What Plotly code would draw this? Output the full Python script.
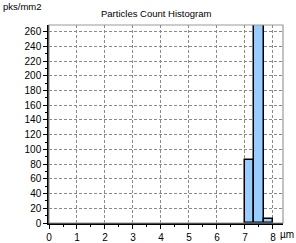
import plotly.graph_objects as go

bin_left = [7.0, 7.3333, 7.6667]
bin_width = 0.3333
counts = [85, 300, 6]
x_ticks = [0, 1, 2, 3, 4, 5, 6, 7, 8]
y_ticks = list(range(0, 261, 20))

centers = [b + bin_width / 2 for b in bin_left]

fig = go.Figure()
fig.add_trace(go.Bar(
    x=centers, y=counts, width=[bin_width] * len(counts),
    marker=dict(color="#99CCFF", line=dict(color="#000000", width=1.5)),
))

font = dict(family="Liberation Sans, Arial, sans-serif", size=10, color="#000000")

fig.update_layout(
    width=296, height=243,
    margin=dict(l=49, r=13, t=25, b=20, autoexpand=False),
    paper_bgcolor="white", plot_bgcolor="white",
    showlegend=False,
    font=font,
    bargap=0,
    xaxis=dict(
        range=[0, 8.36], tickvals=x_ticks, ticktext=[str(v) for v in x_ticks],
        showgrid=True, gridcolor="#8a8a8a", griddash="3px,2px", gridwidth=1,
        showline=True, linecolor="#000000", linewidth=1.5,
        ticks="outside", ticklen=4, tickcolor="#000000",
        minor=dict(dtick=0.5, tick0=0, ticks="outside", ticklen=2, tickcolor="#000000", showgrid=False),
        zeroline=False, tickfont=dict(size=10), fixedrange=True, automargin=False,
    ),
    yaxis=dict(
        range=[0, 269], tickvals=y_ticks,
        showgrid=True, gridcolor="#8a8a8a", griddash="3px,2px", gridwidth=1,
        showline=True, linecolor="#000000", linewidth=1.5,
        ticks="outside", ticklen=4, tickcolor="#000000",
        minor=dict(dtick=10, tick0=0, ticks="outside", ticklen=2, tickcolor="#000000", showgrid=False),
        zeroline=False, tickfont=dict(size=10), fixedrange=True, automargin=False,
    ),
    shapes=[dict(type="rect", xref="paper", yref="paper", x0=0, x1=1, y0=0, y1=1,
                 line=dict(color="#999999", width=1.2), layer="above")],
    annotations=[
        dict(text="Particles Count Histogram", xref="paper", yref="paper",
             x=(156 - 49) / 234, y=1, yshift=12, showarrow=False,
             xanchor="center", yanchor="middle", font=dict(size=9.5)),
        dict(text="pks/mm2", xref="paper", yref="paper", x=-48 / 234, y=1, yshift=19,
             showarrow=False, xanchor="left", yanchor="middle", font=dict(size=9.5)),
        dict(text="µm", xref="paper", yref="paper", x=(296 - 49) / 234, y=0, yshift=-11,
             showarrow=False, xanchor="right", yanchor="middle", font=dict(size=10)),
    ],
)

fig.write_html("out.html", config={"displayModeBar": False},
               post_script="document.body.style.margin='0';document.body.style.overflow='hidden';")
